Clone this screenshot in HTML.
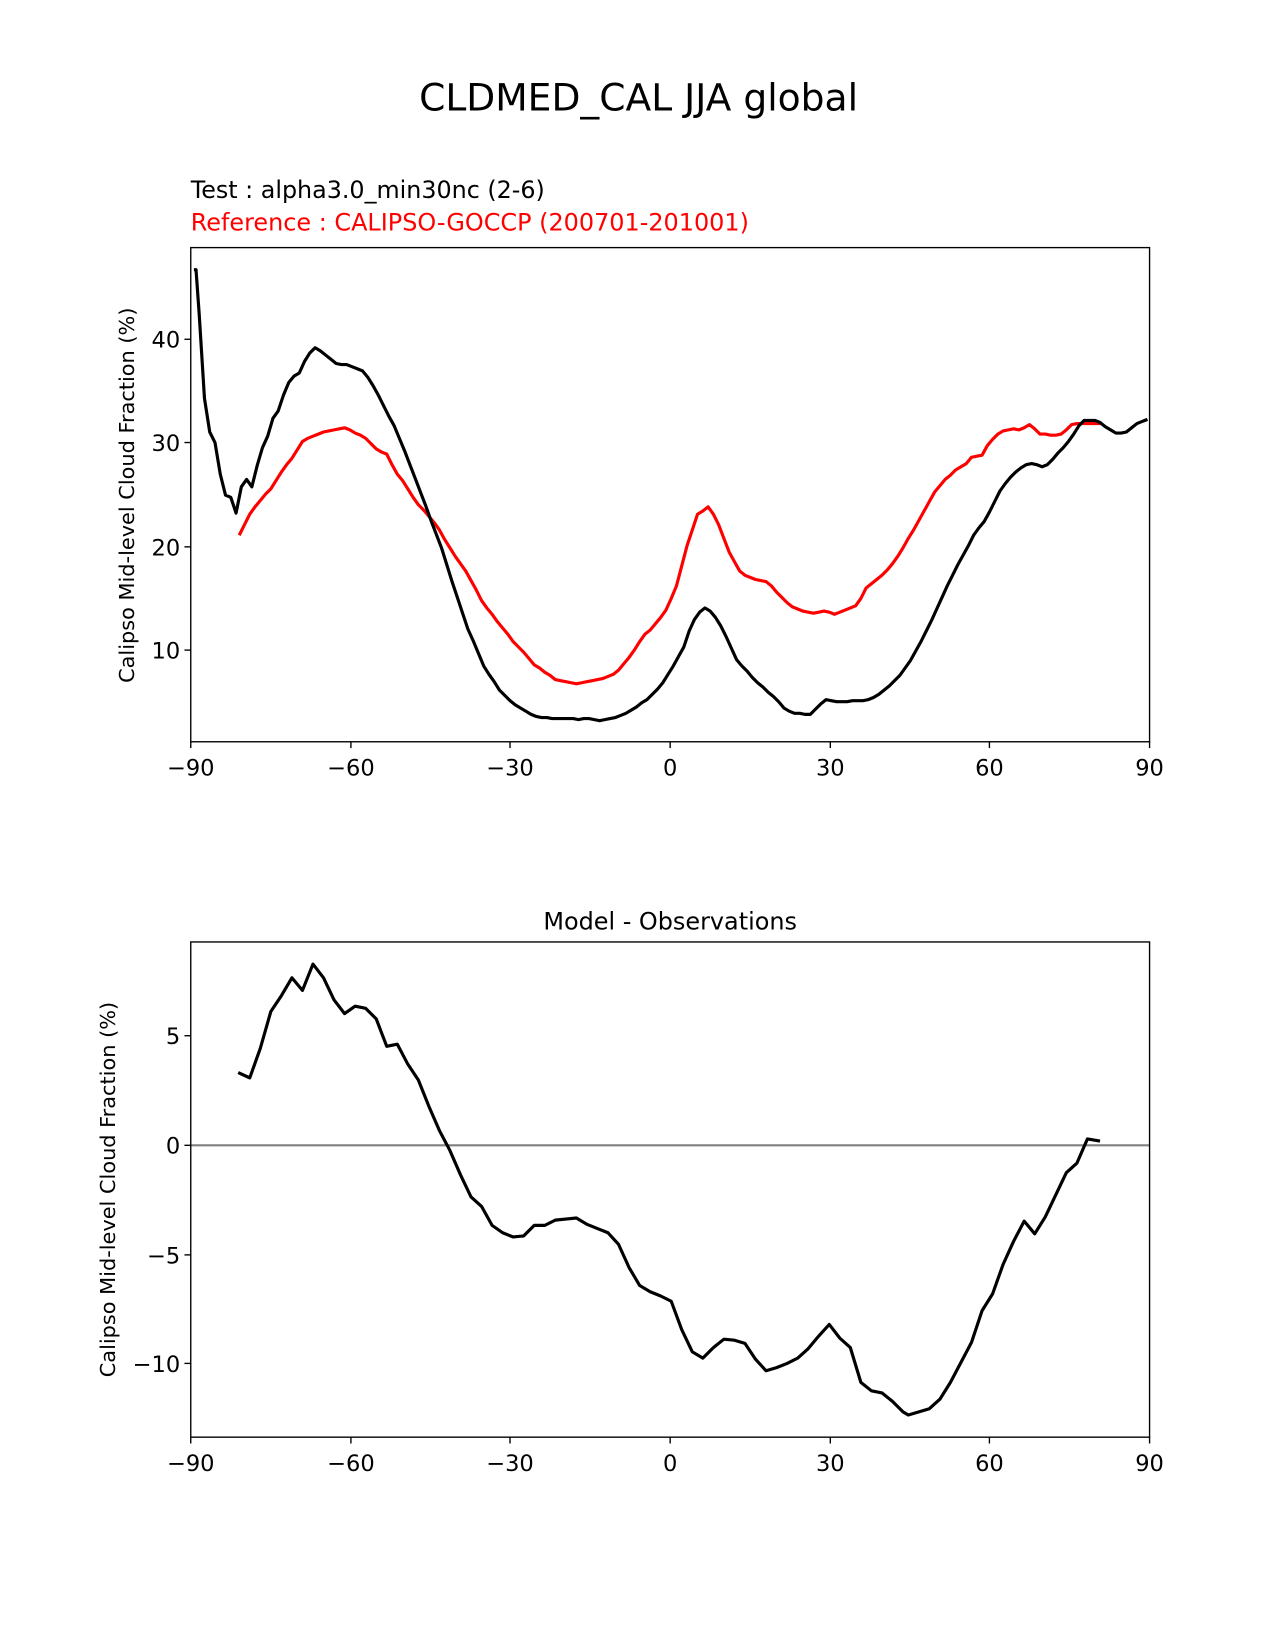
<!DOCTYPE html>
<html><head><meta charset="utf-8"><style>
html,body{margin:0;padding:0;background:#fff;}
svg{display:block;font-family:"Liberation Sans","DejaVu Sans",sans-serif;}
</style></head><body>
<svg width="1275" height="1650" viewBox="0 0 1210 1566" xmlns="http://www.w3.org/2000/svg">
<rect width="1210" height="1566" fill="#fff"/>
<text x="606" y="105" font-size="35.7" text-anchor="middle" font-family="DejaVu Sans, sans-serif">CLDMED_CAL JJA global</text>
<text x="181" y="188" font-size="22.6" font-family="DejaVu Sans, sans-serif">Test : alpha3.0_min30nc (2-6)</text>
<text x="181" y="219" font-size="22.7" fill="#ff0000" font-family="DejaVu Sans, sans-serif">Reference : CALIPSO-GOCCP (200701-201001)</text>

<!-- top axes -->
<g font-family="DejaVu Sans, sans-serif" font-size="21.4">
<g stroke="#000" stroke-width="1.3">
<line x1="181" y1="617" x2="175" y2="617"/><line x1="181" y1="519" x2="175" y2="519"/><line x1="181" y1="420" x2="175" y2="420"/><line x1="181" y1="322" x2="175" y2="322"/>
<line x1="181" y1="704" x2="181" y2="710"/><line x1="333" y1="704" x2="333" y2="710"/><line x1="484" y1="704" x2="484" y2="710"/><line x1="636" y1="704" x2="636" y2="710"/><line x1="788" y1="704" x2="788" y2="710"/><line x1="939" y1="704" x2="939" y2="710"/><line x1="1091" y1="704" x2="1091" y2="710"/>
</g>
<g text-anchor="end"><text x="171" y="625">10</text><text x="171" y="527">20</text><text x="171" y="428">30</text><text x="171" y="330">40</text></g>
<g text-anchor="middle"><text x="181" y="736">−90</text><text x="333" y="736">−60</text><text x="484" y="736">−30</text><text x="636" y="736">0</text><text x="788" y="736">30</text><text x="939" y="736">60</text><text x="1091" y="736">90</text></g>
<text transform="translate(127,470) rotate(-90)" text-anchor="middle" font-size="19.8">Calipso Mid-level Cloud Fraction (%)</text>
</g>
<svg x="181" y="235" width="910" height="469" viewBox="181 235 910 469" overflow="hidden">
<polyline fill="none" stroke="#ff0000" stroke-width="3" stroke-linejoin="round" points="227,508 232,498 237,488 242,481 247,475 252,469 257,464 262,456 267,448 272,441 277,435 282,427 287,419 292,416 297,414 302,412 307,410 312,409 317,408 322,407 327,406 332,408 337,411 342,413 347,416 352,421 357,426 362,429 367,431 372,441 377,450 382,456 387,464 392,472 397,479 402,484 407,490 412,496 417,503 422,512 427,520 432,528 437,535 442,542 447,551 452,560 457,570 462,577 467,583 472,590 477,596 482,602 487,609 492,614 497,619 502,625 507,631 512,634 517,638 522,641 527,645 532,646 537,647 542,648 547,649 552,648 557,647 562,646 567,645 572,644 577,642 582,640 587,636 592,630 597,624 602,617 607,609 612,602 617,598 622,592 627,586 632,579 637,568 642,556 647,537 652,518 657,503 662,488 667,485 672,481 677,488 682,498 687,511 692,524 697,533 702,542 707,546 712,548 717,550 722,551 727,552 732,556 737,562 742,567 747,572 752,576 757,578 762,580 767,581 772,582 777,581 782,580 787,581 792,583 797,581 802,579 807,577 812,575 817,568 822,558 827,554 832,550 837,546 842,541 847,535 852,528 857,520 862,511 867,503 872,494 877,485 882,476 887,467 892,461 897,455 902,451 907,446 912,443 917,440 922,434 927,433 932,432 937,423 942,417 947,412 952,409 957,408 962,407 967,408 972,406 977,403 982,407 987,412 992,412 997,413 1002,413 1007,412 1012,408 1017,403 1022,402 1027,402 1032,402 1037,402 1042,402 1046,402"/>
<polyline fill="none" stroke="#000" stroke-width="3" stroke-linejoin="round" points="184,256 186,256 189,298 194,378 199,410 204,420 209,450 214,470 219,472 224,487 229,462 234,455 239,462 244,442 249,425 254,414 259,397 264,390 269,375 274,363 279,357 284,354 289,343 294,335 299,330 304,333 309,337 314,341 319,345 324,346 329,346 334,348 339,350 344,352 349,358 354,366 359,375 364,385 369,395 374,404 379,416 384,428 389,441 394,454 399,467 404,480 409,494 414,507 419,520 424,536 429,552 434,567 439,582 444,597 449,608 454,620 459,632 464,640 469,647 474,655 479,660 484,665 489,669 494,672 499,675 504,678 509,680 514,681 519,681 524,682 529,682 534,682 539,682 544,682 549,683 554,682 559,682 564,683 569,684 574,683 579,682 584,681 589,679 594,677 599,674 604,671 609,667 614,664 619,659 624,654 629,648 634,640 639,632 644,623 649,614 654,599 659,588 664,581 669,577 674,580 679,586 684,594 689,604 694,615 699,626 704,632 709,637 714,643 719,648 724,652 729,657 734,661 739,666 744,672 749,675 754,677 759,677 764,678 769,678 774,673 779,668 784,664 789,665 794,666 799,666 804,666 809,665 814,665 819,665 824,664 829,662 834,659 839,655 844,651 849,646 854,641 859,634 864,627 869,618 874,609 879,599 884,589 889,578 894,567 899,556 904,546 909,536 914,527 919,518 924,508 929,501 934,495 939,486 944,476 949,466 954,459 959,453 964,448 969,444 974,441 979,440 984,441 989,443 994,441 999,436 1004,430 1009,425 1014,419 1019,412 1024,404 1029,399 1034,399 1039,399 1044,401 1049,405 1054,408 1059,411 1064,411 1069,410 1074,406 1079,402 1084,400 1089,398"/>
</svg>
<rect x="181" y="235" width="910" height="469" fill="none" stroke="#000" stroke-width="1.3"/>

<!-- bottom axes -->
<text x="636" y="882" font-size="22.7" text-anchor="middle" font-family="DejaVu Sans, sans-serif">Model - Observations</text>
<g font-family="DejaVu Sans, sans-serif" font-size="21.4">
<g stroke="#000" stroke-width="1.3">
<line x1="181" y1="983" x2="175" y2="983"/><line x1="181" y1="1087" x2="175" y2="1087"/><line x1="181" y1="1191" x2="175" y2="1191"/><line x1="181" y1="1294" x2="175" y2="1294"/>
<line x1="181" y1="1364" x2="181" y2="1370"/><line x1="333" y1="1364" x2="333" y2="1370"/><line x1="484" y1="1364" x2="484" y2="1370"/><line x1="636" y1="1364" x2="636" y2="1370"/><line x1="788" y1="1364" x2="788" y2="1370"/><line x1="939" y1="1364" x2="939" y2="1370"/><line x1="1091" y1="1364" x2="1091" y2="1370"/>
</g>
<g text-anchor="end"><text x="171" y="991">5</text><text x="171" y="1095">0</text><text x="171" y="1199">−5</text><text x="171" y="1302">−10</text></g>
<g text-anchor="middle"><text x="181" y="1396">−90</text><text x="333" y="1396">−60</text><text x="484" y="1396">−30</text><text x="636" y="1396">0</text><text x="788" y="1396">30</text><text x="939" y="1396">60</text><text x="1091" y="1396">90</text></g>
<text transform="translate(109,1129) rotate(-90)" text-anchor="middle" font-size="19.8">Calipso Mid-level Cloud Fraction (%)</text>
</g>
<line x1="181" y1="1087" x2="1091" y2="1087" stroke="#808080" stroke-width="2"/>
<polyline fill="none" stroke="#000" stroke-width="3" stroke-linejoin="round" points="226,1018 237,1023 247,995 257,960 267,945 277,928 287,940 297,915 307,928 317,949 327,962 337,955 347,957 357,967 367,993 377,991 387,1010 397,1025 407,1050 417,1073 427,1092 437,1115 447,1136 457,1145 467,1163 477,1170 487,1174 497,1173 507,1163 517,1163 527,1158 537,1157 547,1156 557,1162 567,1166 577,1170 587,1181 597,1203 607,1220 617,1226 627,1230 637,1235 647,1262 657,1283 667,1289 677,1279 687,1271 697,1272 707,1275 717,1290 727,1301 737,1298 747,1294 757,1289 767,1280 777,1268 787,1257 797,1270 807,1279 817,1312 827,1320 837,1322 847,1330 857,1340 862,1343 872,1340 882,1337 892,1328 902,1312 912,1293 922,1274 932,1244 942,1228 952,1200 962,1178 972,1159 982,1171 992,1155 1002,1134 1012,1113 1022,1104 1032,1081 1044,1083"/>
<rect x="181" y="894" width="910" height="470" fill="none" stroke="#000" stroke-width="1.3"/>
</svg>
</body></html>
